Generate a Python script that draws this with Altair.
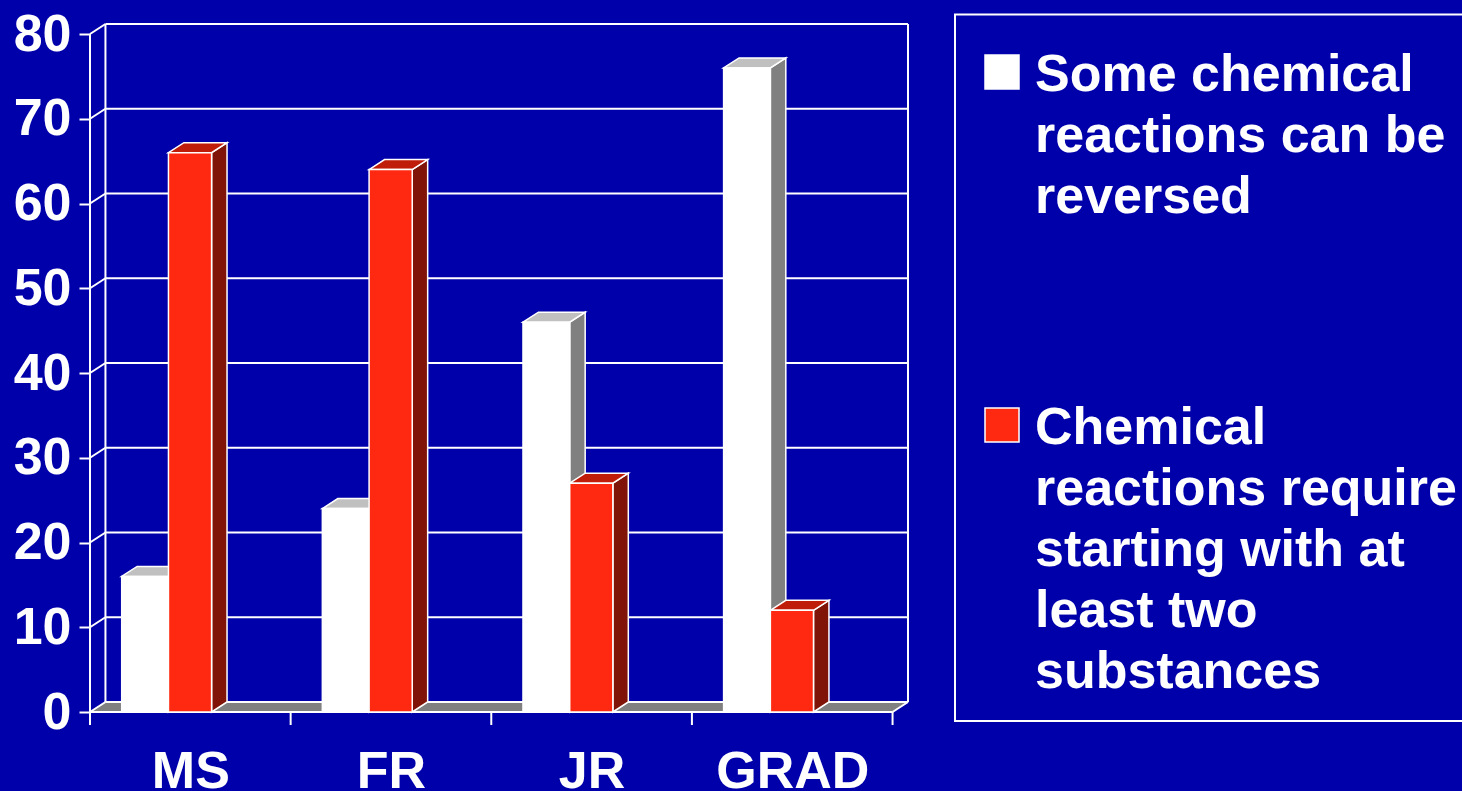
import json

import altair as alt
import pandas as pd

# ---- data -------------------------------------------------------------
categories = ["MS", "FR", "JR", "GRAD"]
series_names = [
    "Some chemical reactions can be reversed",
    "Chemical reactions require starting with at least two substances",
]
legend_lines = [
    ["Some chemical", "reactions can be", "reversed"],
    ["Chemical", "reactions require", "starting with at", "least two", "substances"],
]
reversible_pct = [16, 24, 46, 76]
two_substances_pct = [66, 64, 27, 12]
y_ticks = [0, 10, 20, 30, 40, 50, 60, 70, 80]
series_values = [reversible_pct, two_substances_pct]

# ---- style ------------------------------------------------------------
BG = "#0000AA"
FONT = "Liberation Sans"
FS = 52
FRONT = ["#FFFFFF", "#FF2810"]
TOP = ["#C0C0C0", "#C01C0A"]
SIDE = ["#808080", "#801408"]
FLOOR = "#808080"
EDGES = [(0.158, 0.391), (0.391, 0.606)]  # bar spans inside a category slot
DX = 0.077   # depth of the 3-D box, in category units
DY = 1.18    # depth of the 3-D box, in value units
W, H = 818, 688
N = len(categories)
Y_MAX = y_ticks[-1]

x_scale = alt.Scale(domain=[0, N + DX], nice=False, zero=False)
y_scale = alt.Scale(domain=[0, Y_MAX + DY], nice=False, zero=False)

x_axis = alt.Axis(
    title=None, values=[i + 0.5 for i in range(N)],
    labelExpr=f"{json.dumps(categories)}[floor(datum.value)]",
    ticks=False, tickSize=0, domain=False, grid=False,
    labelPadding=75, labelBaseline="alphabetic", labelAlign="center",
    labelFont=FONT, labelFontSize=FS, labelFontWeight="bold",
    labelColor="white", labelFlush=False, labelOverlap=False,
)
y_axis = alt.Axis(
    title=None, values=y_ticks, tickSize=11, tickColor="white", tickWidth=2,
    domain=False, grid=False, labelPadding=8, labelBaseline="middle",
    labelFont=FONT, labelFontSize=FS, labelFontWeight="bold",
    labelColor="white", labelFlush=False, labelOverlap=False,
)


def X(f):
    return alt.X(f, type="quantitative", scale=x_scale, axis=x_axis)


def Y(f):
    return alt.Y(f, type="quantitative", scale=y_scale, axis=y_axis, stack=None)


def X2(f):
    return alt.X2(f)


def Y2(f):
    return alt.Y2(f)


# ---- frame: floor, back wall, grid and axis lines --------------------
floor_df = pd.DataFrame({
    "x": [0, DX, N, N + DX],
    "y": [0, DY, DY, DY],
    "y2": [0, 0, 0, DY],
})
floor = alt.Chart(floor_df).mark_area(orient="vertical", color=FLOOR).encode(
    x=X("x"), y=Y("y"), y2=Y2("y2")
)

grid_df = pd.DataFrame({"v": y_ticks})
grid_df["vb"] = grid_df["v"] + DY
grid_df["x0"] = DX
grid_df["x1"] = N + DX
grid_df["c0"] = 0.0
back_grid = alt.Chart(grid_df).mark_rule(color="white", strokeWidth=2).encode(
    x=X("x0"), x2=X2("x1"), y=Y("vb")
)
connectors = alt.Chart(grid_df).mark_rule(color="white", strokeWidth=2).encode(
    x=X("c0"), x2=X2("x0"), y=Y("v"), y2=Y2("vb")
)

edge_df = pd.DataFrame({
    "x": [0, DX, N + DX, 0, N],
    "x2": [0, DX, N + DX, N, N + DX],
    "y": [0, DY, DY, 0, 0],
    "y2": [Y_MAX, Y_MAX + DY, Y_MAX + DY, 0, DY],
})
edges = alt.Chart(edge_df).mark_rule(color="white", strokeWidth=2).encode(
    x=X("x"), x2=X2("x2"), y=Y("y"), y2=Y2("y2")
)

bounds_df = pd.DataFrame({"b": list(range(N + 1))})
x_ticks = alt.Chart(bounds_df).mark_rule(color="white", strokeWidth=2).encode(
    x=X("b"), y=alt.value(H), y2=alt.value(H + 13)
)

# ---- 3-D bars ----------------------------------------------------------
bar_layers = []
for s, values in enumerate(series_values):
    lo, hi = EDGES[s]
    fronts, sides, tops = [], [], []
    for i, v in enumerate(values):
        x0, x1 = i + lo, i + hi
        fronts.append({"x0": x0, "x1": x1, "v": v})
        sides += [
            {"face": i, "x": x1, "y": v, "y2": 0},
            {"face": i, "x": x1 + DX, "y": v + DY, "y2": DY},
        ]
        tops += [
            {"face": i, "x": x0, "y": v, "y2": v},
            {"face": i, "x": x0 + DX, "y": v + DY, "y2": v},
            {"face": i, "x": x1, "y": v + DY, "y2": v},
            {"face": i, "x": x1 + DX, "y": v + DY, "y2": v + DY},
        ]
    side = alt.Chart(pd.DataFrame(sides)).mark_area(
        orient="vertical", color=SIDE[s], stroke="white", strokeWidth=1.5
    ).encode(x=X("x"), y=Y("y"), y2=Y2("y2"), detail="face:N")
    top = alt.Chart(pd.DataFrame(tops)).mark_area(
        orient="vertical", color=TOP[s], stroke="white", strokeWidth=1.5
    ).encode(x=X("x"), y=Y("y"), y2=Y2("y2"), detail="face:N")
    front = alt.Chart(pd.DataFrame(fronts)).mark_rect(
        color=FRONT[s], stroke="white", strokeWidth=1.5
    ).encode(x=X("x0"), x2=X2("x1"), y=Y("v"), y2=alt.Y2(datum=0))
    bar_layers += [side, top, front]

# ---- legend -------------------------------------------------------------
one = pd.DataFrame({"k": [0]})
legend_box = alt.Chart(one).mark_rect(
    fillOpacity=0, stroke="white", strokeWidth=2
).encode(x=alt.value(865), x2=alt.value(1390), y=alt.value(-9.5), y2=alt.value(697))

legend_layers = [legend_box]
legend_rows = [31, 384]      # top of each legend key
for s, name in enumerate(series_names):
    top_px = legend_rows[s]
    key = alt.Chart(one).mark_rect(
        color=FRONT[s], stroke="white", strokeWidth=1.5
    ).encode(x=alt.value(895), x2=alt.value(929), y=alt.value(top_px), y2=alt.value(top_px + 34))
    label = alt.Chart(pd.DataFrame({"t": ["\n".join(legend_lines[s])], "name": [name]})).mark_text(
        align="left", baseline="alphabetic", lineBreak="\n", lineHeight=61,
        font=FONT, fontSize=FS, fontWeight="bold", color="white",
    ).encode(x=alt.value(945), y=alt.value(top_px + 36), text="t:N")
    legend_layers += [key, label]

chart = alt.layer(
    floor, back_grid, connectors, edges, x_ticks, *bar_layers, *legend_layers
).properties(
    width=W, height=H,
    background=BG,
    padding={"left": 90, "top": 24, "right": 1462 - 90 - W, "bottom": 791 - 24 - H},
    autosize=alt.AutoSizeParams(type="none"),
).configure_view(stroke=None)

chart.save("out.html", embed_options={"renderer": "svg", "actions": False})
